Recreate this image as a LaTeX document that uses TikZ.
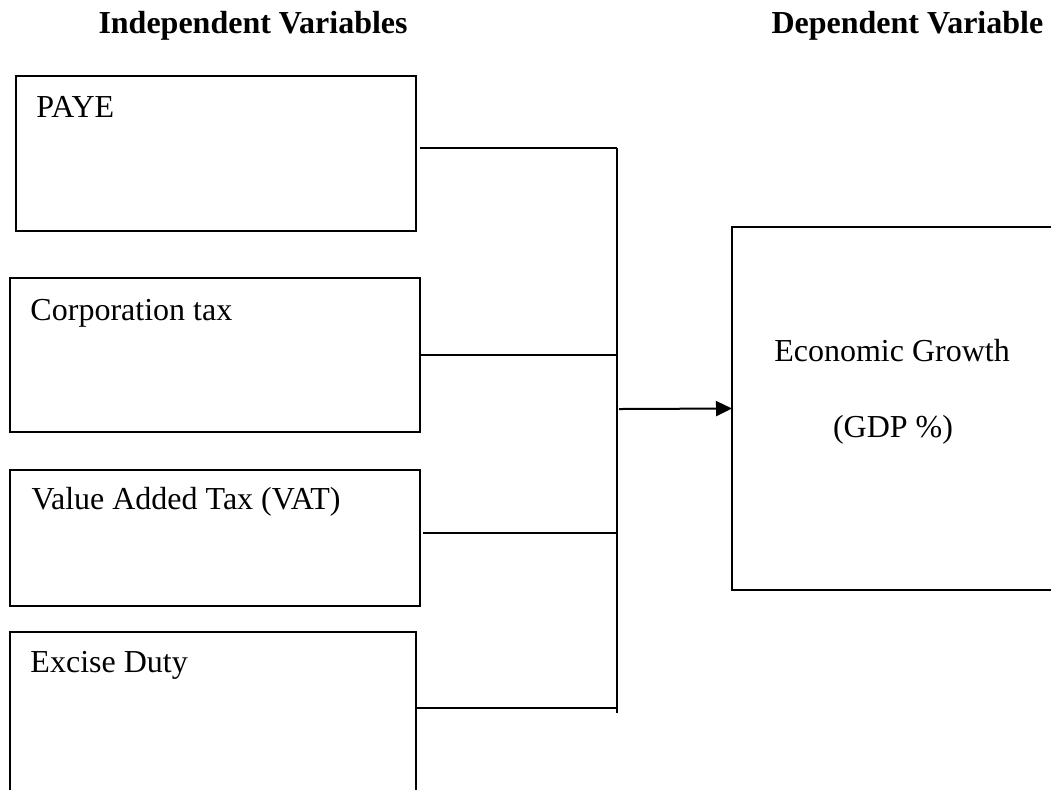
\documentclass[tikz,border=0pt]{standalone}
\usepackage{fontspec}
\setmainfont{Liberation Serif}
\usetikzlibrary{arrows.meta}
\begin{document}
\begin{tikzpicture}[x=0.4pt,y=-0.4pt,
  box/.style={draw, rectangle, inner sep=0pt, outer sep=0pt, line width=0.7pt},
  lbl/.style={anchor=base west, inner sep=0pt, font=\fontsize{12.8}{15}\selectfont},
  head/.style={anchor=base west, inner sep=0pt, font=\fontsize{12.8}{15}\selectfont\bfseries},
  link/.style={line width=0.7pt},
  arr/.style={line width=0.8pt, -{Triangle[length=6.4pt,width=6pt]}}]
\clip (0,0) rectangle (1051,789);
\fill[white] (0,0) rectangle (1051,789);
% headings
\node[head] (hind) at (98,33) {Independent Variables};
\node[head] (hdep) at (771,33) {Dependent Variable};
% boxes
\node[box, minimum width=160pt, minimum height=62pt] (paye) at (216,153.5) {};
\node[box, minimum width=164pt, minimum height=61.6pt] (corp) at (215,355) {};
\node[box, minimum width=164pt, minimum height=54.4pt] (vat) at (215,538) {};
\node[box, minimum width=162.4pt, minimum height=67.2pt] (exc) at (213,716) {};
\node[box, minimum width=131.2pt, minimum height=145.2pt] (econ) at (896,408.5) {};
% labels
\node[lbl] (tpaye) at (36,117) {PAYE};
\node[lbl] (tcorp) at (30,320) {Corporation tax};
\node[lbl] (tvat) at (31,509) {Value Added Tax (VAT)};
\node[lbl] (texc) at (30,672) {Excise Duty};
\node[anchor=base, inner sep=0pt, font=\fontsize{12.8}{15}\selectfont] (tecon1) at (892,361) {Economic Growth};
\node[anchor=base, inner sep=0pt, font=\fontsize{12.8}{15}\selectfont] (tecon2) at (893,437) {(GDP \%)};
% junction coordinates
\coordinate (jtop) at (617,148);
\coordinate (jcorp) at (617,355);
\coordinate (jvat) at (617,533);
\coordinate (jexc) at (617,708);
\coordinate (jbot) at (617,713);
\coordinate (jarr) at (619,409);
% connectors
\draw[link] ([xshift=1.6pt]paye.east |- jtop) -- (jtop);
\draw[link] ([xshift=0.4pt]corp.east |- jcorp) -- (jcorp);
\draw[link] ([xshift=1.2pt]vat.east |- jvat) -- (jvat);
\draw[link] (exc.east |- jexc) -- (jexc);
\draw[link] (jtop) -- (jbot);
\draw[arr] (jarr) -- (econ.west);
\end{tikzpicture}
\end{document}
